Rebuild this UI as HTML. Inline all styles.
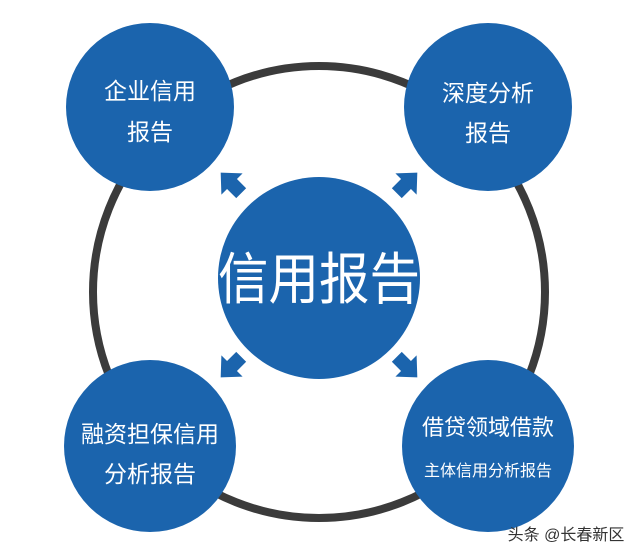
<!DOCTYPE html>
<html><head><meta charset="utf-8"><style>
html,body{margin:0;padding:0;background:#fff;width:640px;height:556px;overflow:hidden}
svg text{font-family:"Liberation Sans","Noto Sans CJK SC",sans-serif;fill:#fff}
</style></head><body>
<svg width="640" height="556" viewBox="0 0 640 556" xmlns="http://www.w3.org/2000/svg">
<circle cx="319" cy="292" r="226" fill="none" stroke="#3b3b3b" stroke-width="8"/>
<g fill="#1b64ad">
<circle cx="150" cy="107" r="84"/>
<circle cx="488" cy="107" r="84"/>
<circle cx="150" cy="446" r="86"/>
<circle cx="488" cy="446" r="86"/>
<circle cx="319" cy="278" r="101"/>
<g transform="translate(232,184) rotate(-45)"><polygon points="0,-16 15,0 7,0 7,13 -7,13 -7,0 -15,0"/></g>
<g transform="translate(406,184) rotate(45)"><polygon points="0,-16 15,0 7,0 7,13 -7,13 -7,0 -15,0"/></g>
<g transform="translate(232,366) rotate(-135)"><polygon points="0,-16 15,0 7,0 7,13 -7,13 -7,0 -15,0"/></g>
<g transform="translate(406,366) rotate(135)"><polygon points="0,-16 15,0 7,0 7,13 -7,13 -7,0 -15,0"/></g>
</g>
<text x="319" y="299" font-size="56" text-anchor="middle" textLength="202" lengthAdjust="spacingAndGlyphs">信用报告</text>
<text x="150" y="99" font-size="23" text-anchor="middle">企业信用</text>
<text x="150" y="140" font-size="23" text-anchor="middle">报告</text>
<text x="488" y="101" font-size="23" text-anchor="middle">深度分析</text>
<text x="488" y="141" font-size="23" text-anchor="middle">报告</text>
<text x="150" y="442" font-size="23" text-anchor="middle">融资担保信用</text>
<text x="150" y="482" font-size="23" text-anchor="middle">分析报告</text>
<text x="488" y="435" font-size="22" text-anchor="middle">借贷领域借款</text>
<text x="488" y="476" font-size="16" text-anchor="middle">主体信用分析报告</text>
<text x="566" y="540" font-size="16" text-anchor="middle" style="fill:#333">头条 @长春新区</text>
</svg>
</body></html>
